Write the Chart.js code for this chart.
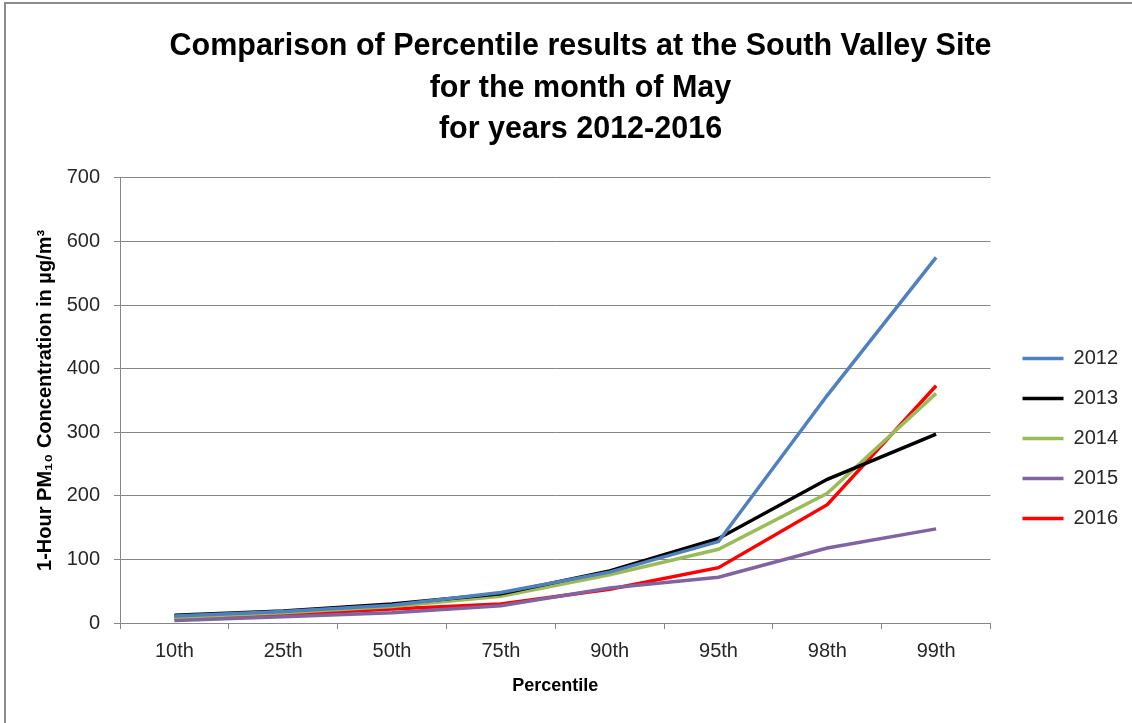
<!DOCTYPE html>
<html>
<head>
<meta charset="utf-8">
<script src="https://cdn.jsdelivr.net/npm/chart.js@4.4.1/dist/chart.umd.min.js"></script>
<style>
  html, body { margin: 0; padding: 0; background: #fff; }
  #wrap { width: 1132px; height: 723px; position: relative; }
</style>
</head>
<body>
<div id="wrap"><canvas id="pctChart"></canvas></div>
<script>
// Percentile categories and May 1-hour PM10 values by year
const percentiles = ['10th', '25th', '50th', '75th', '90th', '95th', '98th', '99th'];
const years = ['2012', '2013', '2014', '2015', '2016'];
const pm2012 = [11, 18, 28, 48, 80, 128, 358, 575];
const pm2013 = [12, 19, 30, 46, 82, 133, 226, 297];
const pm2014 = [9, 16, 26, 42, 76, 116, 204, 361];
const pm2015 = [4, 10, 16, 27, 55, 72, 118, 148];
const pm2016 = [7, 13, 22, 30, 53, 87, 186, 373];
const yTicks = [0, 100, 200, 300, 400, 500, 600, 700];

const seriesValues = [pm2012, pm2013, pm2014, pm2015, pm2016];
const seriesColors = ['#4F81BD', '#000000', '#9BBB59', '#8064A2', '#FF0000'];

const FONT = "'Liberation Sans', Arial, sans-serif";

// thin frame along the top and left edge
const framePlugin = {
  id: 'frame',
  afterDraw(chart) {
    const ctx = chart.ctx;
    ctx.save();
    ctx.strokeStyle = '#8c8c8c';
    ctx.lineWidth = 2;
    ctx.beginPath();
    ctx.moveTo(5, chart.height);
    ctx.lineTo(5, 3);
    ctx.lineTo(chart.width, 3);
    ctx.stroke();
    ctx.restore();
  }
};

new Chart(document.getElementById('pctChart'), {
  type: 'line',
  data: {
    labels: percentiles,
    datasets: years.map((y, i) => ({
      label: y,
      data: seriesValues[i],
      borderColor: seriesColors[i],
      backgroundColor: seriesColors[i],
      borderWidth: 3.5,
      pointRadius: 0,
      tension: 0,
      fill: false
    }))
  },
  options: {
    responsive: true,
    maintainAspectRatio: false,
    animation: false,
    layout: { padding: { left: 33, right: 4, top: 4, bottom: 26 } },
    plugins: {
      title: {
        display: true,
        text: ['Comparison of Percentile results at the South Valley Site',
               'for the month of May', 'for years 2012-2016'],
        color: '#000',
        font: { family: FONT, size: 30.5, weight: 'bold', lineHeight: 1.364 },
        padding: { top: 22, bottom: 27 }
      },
      legend: {
        position: 'right',
        fullSize: false,
        title: { display: true, text: '', padding: 31 },
        labels: {
          usePointStyle: true,
          pointStyle: 'line',
          pointStyleWidth: 41,
          boxHeight: 10,
          padding: 20,
          color: '#262626',
          font: { family: FONT, size: 20 }
        }
      },
      tooltip: { enabled: false }
    },
    scales: {
      x: {
        offset: true,
        afterFit(scale) { scale.height = 74; },
        grid: {
          offset: true,
          drawOnChartArea: false,
          drawTicks: true,
          tickLength: 6,
          color: '#868686'
        },
        border: { color: '#868686' },
        ticks: { color: '#262626', padding: 10, font: { family: FONT, size: 20 } },
        title: {
          display: true,
          text: 'Percentile',
          color: '#000',
          font: { family: FONT, size: 18, weight: 'bold' },
          padding: { top: 12, bottom: 0 }
        }
      },
      y: {
        min: 0,
        max: 700,
        afterBuildTicks(scale) { scale.ticks = yTicks.map(v => ({ value: v })); },
        afterFit(scale) { scale.width = 87; },
        grid: { color: '#868686', tickLength: 6 },
        border: { color: '#868686' },
        ticks: { color: '#262626', padding: 14, font: { family: FONT, size: 20 } },
        title: {
          display: true,
          text: '1-Hour PM\u2081\u2080 Concentration in \u00B5g/m\u00B3',
          color: '#000',
          font: { family: FONT, size: 20, weight: 'bold' },
          padding: { top: 0, bottom: 10 }
        }
      },
      // empty spacer axis that keeps a gap between the plot and the legend
      gap: {
        position: 'right',
        display: true,
        grid: { display: false, drawTicks: false },
        border: { display: false },
        ticks: { display: false },
        afterFit(scale) { scale.width = 12; }
      }
    }
  },
  plugins: [framePlugin]
});
</script>
</body>
</html>
